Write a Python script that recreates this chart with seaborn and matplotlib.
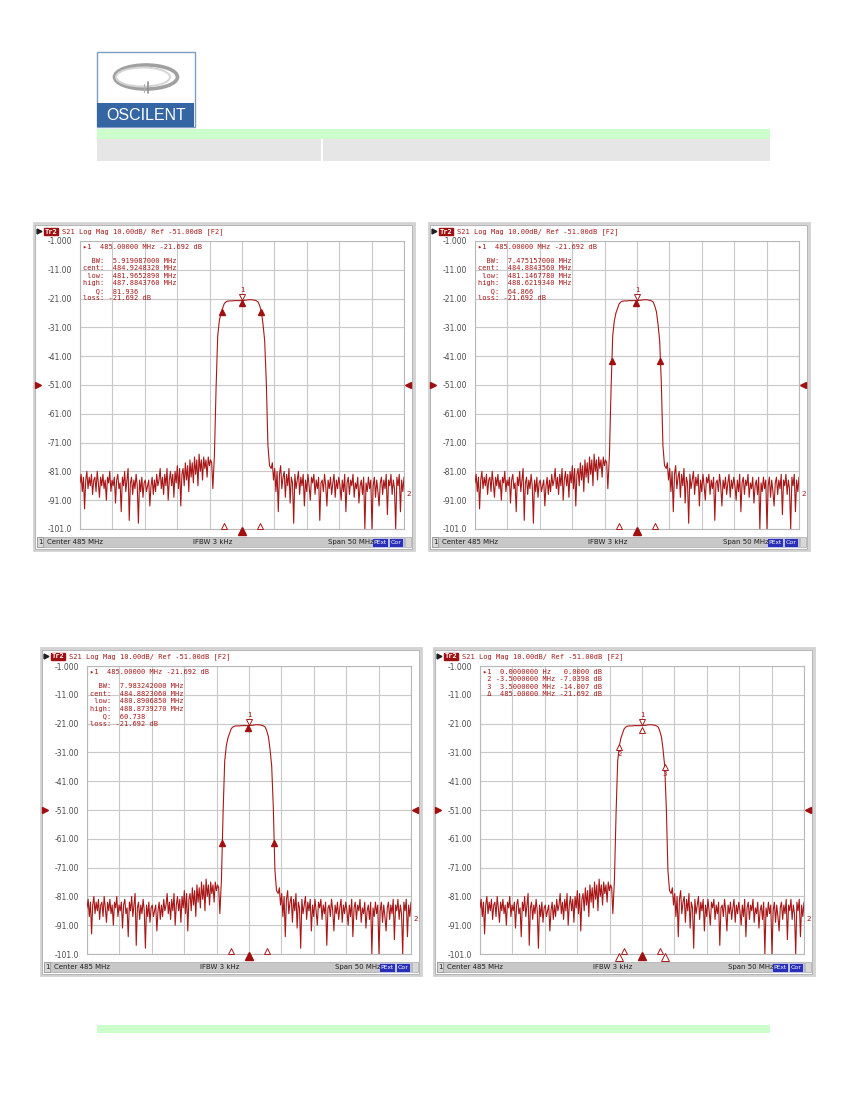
import numpy as np
import matplotlib
matplotlib.use("Agg")
import matplotlib.pyplot as plt
import seaborn as sns
from matplotlib.patches import Rectangle, Ellipse
from matplotlib.transforms import ScaledTranslation

sns.set_theme(style="white")
plt.rcParams['font.family'] = ['DejaVu Sans']

# ---------------- data ----------------
CENTER_MHZ = 485.0
SPAN_MHZ = 50.0
Y_TICKS = [-1, -11, -21, -31, -41, -51, -61, -71, -81, -91, -101]
Y_TICK_LABELS = ["-1.000", "-11.00", "-21.00", "-31.00", "-41.00", "-51.00",
                 "-61.00", "-71.00", "-81.00", "-91.00", "-101.0"]
REF_LEVEL = -51.0
TRACE_LABEL_LEVEL = -89.0

# S21 trace (dB), left stop-band: offsets -25 .. -4.5 MHz
left_noise_db = [-85, -82, -88, -83, -94, -84, -81, -87, -83, -86,
                 -82, -89, -84, -83, -88, -81, -85, -90, -83, -86,
                 -82, -87, -84, -91, -83, -85, -81, -88, -84, -86,
                 -83, -92, -84, -82, -87, -85, -95, -83, -86, -81,
                 -88, -84, -80, -98, -85, -83, -89, -84, -87, -82,
                 -86, -99, -84, -88, -83, -90, -85, -84, -88, -86,
                 -84, -93, -86, -83, -89, -84, -88, -82, -86, -84,
                 -80, -87, -83, -89, -82, -86, -80, -91, -84, -81,
                 -86, -82, -90, -81, -85, -79, -87, -80, -93, -82,
                 -80, -86, -78, -84, -79, -88, -77, -83, -78, -85,
                 -76, -82, -77, -86, -75, -81, -77, -84, -76, -80,
                 -77, -83, -76, -79, -77, -78, -87]
# pass-band: offsets -4.25 .. +4.25 MHz
passband_db = [-75, -52, -34, -28.7, -26.0, -24.4, -22.8, -22.2, -21.9, -21.8, -21.8,
               -21.8, -21.7, -21.7, -21.7, -21.7, -21.7, -21.7, -21.6, -21.6, -21.5,
               -21.4, -21.4, -21.4, -21.5, -21.6, -21.8, -22.2, -23.6, -25.6, -30.0,
               -35.7, -50, -72, -79]
# right stop-band: offsets +4.5 .. +25 MHz
right_noise_db = [-80, -78, -84, -80, -88, -81, -95, -82, -79, -87,
                  -83, -81, -90, -82, -86, -80, -92, -83, -85, -99,
                  -82, -87, -84, -81, -89, -83, -86, -82, -93, -84,
                  -88, -82, -86, -91, -83, -85, -82, -89, -84, -87,
                  -83, -98, -85, -84, -88, -82, -86, -93, -84, -87,
                  -83, -89, -85, -82, -90, -84, -87, -83, -86, -91,
                  -84, -88, -82, -95, -85, -83, -89, -84, -86, -82,
                  -90, -85, -87, -83, -92, -86, -84, -89, -83, -101,
                  -85, -88, -83, -87, -84, -101, -86, -83, -90, -84,
                  -88, -93, -85, -83, -89, -84, -87, -82, -96, -84,
                  -86, -82, -89, -84, -87, -101, -83, -86, -82, -95,
                  -84, -88, -83]

LOSS_DB = -21.692
BW_LEVELS = [-24.692, -41.692, -61.692]
BW_MHZ = ["5.919087000", "7.475157000", "7.983242000"]
CENT_MHZ = ["484.9248320", "484.8843560", "484.8823060"]
LOW_MHZ = ["481.9652890", "481.1467780", "480.8906850"]
HIGH_MHZ = ["487.8843760", "488.6219340", "488.8739270"]
Q_VALUES = ["81.936", "64.866", "60.738"]

# panel 4 marker table
M4_LABELS = ["1", "2", "3"]
M4_OFFSET_MHZ = [0.0, -3.5, 3.5]
M4_REL_DB = [0.0, -7.0398, -14.007]
M4_LINES = ["\u25b81  0.0000000 Hz   0.0000 dB",
            " 2 -3.5000000 MHz -7.0398 dB",
            " 3  3.5000000 MHz -14.007 dB",
            " \u0394  485.00000 MHz -21.692 dB"]
BOTTOM_OPEN_OFFSETS = [-2.75, 2.75]

TITLE = "S21 Log Mag 10.00dB/ Ref -51.00dB [F2]"
STATUS_CENTER = "Center 485 MHz"
STATUS_IFBW = "IFBW 3 kHz"
STATUS_SPAN = "Span 50 MHz"

# ---------------- build trace ----------------
f_left = np.linspace(-25, -4.5, len(left_noise_db))
f_pass = np.linspace(-4.25, 4.25, len(passband_db))
f_right = np.linspace(4.5, 25, len(right_noise_db))
trace_freq = CENTER_MHZ + np.concatenate([f_left, f_pass, f_right])
trace_db = np.array(left_noise_db + passband_db + right_noise_db, dtype=float)
trace_df = {"freq": trace_freq, "db": trace_db}

RED = '#a81818'
MONO = ['DejaVu Sans Mono', 'DejaVu Sans']

W, H = 850, 1100
fig = plt.figure(figsize=(8.5, 11), dpi=100)
fig.patch.set_facecolor('white')
bg = fig.add_axes([0, 0, 1, 1])
bg.set_xlim(0, W)
bg.set_ylim(H, 0)
bg.axis('off')

# ---------------- page header ----------------
bg.add_patch(Rectangle((97, 52), 98, 75, facecolor='white', edgecolor='#7f9cc4', lw=1))
bg.add_patch(Rectangle((97.5, 103), 97, 23.5, facecolor='#3466a4', edgecolor='none'))
bg.text(146.5, 115.5, 'OSCILENT', color='white', fontsize=11.5, family='Liberation Sans',
        ha='center', va='center')
bg.add_patch(Ellipse((146, 77), 63, 24, fill=False, edgecolor='#a0a0a0', lw=2.6))
bg.add_patch(Ellipse((143, 77), 54, 19, fill=False, edgecolor='#d4d4d4', lw=1.4))
bg.plot([148, 148], [82, 93], color='#909090', lw=1.2)
bg.plot([144, 144], [84, 92], color='#b0b0b0', lw=0.8)
bg.add_patch(Rectangle((97, 129), 673, 10, facecolor='#ccffcc', edgecolor='none'))
bg.add_patch(Rectangle((97, 139), 673, 22, facecolor='#e6e6e6', edgecolor='none'))
bg.plot([322, 322], [139, 161], color='white', lw=1.5)
bg.add_patch(Rectangle((97, 1025), 673, 8, facecolor='#ccffcc', edgecolor='none'))

# ---------------- panels ----------------
PANELS = [(34, 223), (429, 223), (41, 648), (434, 648)]
FW, FH = 380, 327
PDX, PDY, PW, PH = 46, 18, 324, 288


def off(ax, dx, dy):
    return ax.transData + ScaledTranslation(dx / 100, dy / 100, fig.dpi_scale_trans)


for k, (fl, ft) in enumerate(PANELS):
    # frame
    bg.add_patch(Rectangle((fl, ft), FW, FH, facecolor='white', edgecolor='#d2d2d2', lw=2))
    bg.add_patch(Rectangle((fl + 1.5, ft + 1.5), FW - 3, FH - 3, facecolor='none',
                           edgecolor='#b4b4b4', lw=0.7))
    # title bar
    bg.plot([fl + 5], [ft + 8], marker='>', ms=3.5, color='#202020')
    bg.text(fl + 17, ft + 8.5, 'Tr2', fontsize=5.0, family=MONO, color='white',
            ha='center', va='center', fontweight='bold',
            bbox=dict(boxstyle='square,pad=0.12', fc='#a01010', ec='#a01010'))
    bg.text(fl + 28, ft + 8.5, TITLE, fontsize=5.0, family=MONO, color=RED,
            ha='left', va='center')
    # status bar
    sy = ft + 314
    bg.add_patch(Rectangle((fl + 3, sy), FW - 13, 10, facecolor='#c8c8c8',
                           edgecolor='#a8a8a8', lw=0.5))
    bg.add_patch(Rectangle((fl + FW - 9, sy), 6, 10, facecolor='#d8d8d8',
                           edgecolor='#a8a8a8', lw=0.5))
    bg.add_patch(Rectangle((fl + 3, sy), 6, 10, facecolor='#d8d8d8',
                           edgecolor='#909090', lw=0.5))
    bg.text(fl + 6, sy + 5.3, '1', fontsize=5, color='#202020', ha='center', va='center')
    bg.text(fl + 13, sy + 5.3, STATUS_CENTER, fontsize=5, color='#202020', va='center')
    bg.text(fl + 159, sy + 5.3, STATUS_IFBW, fontsize=5, color='#202020', va='center')
    bg.text(fl + 294, sy + 5.3, STATUS_SPAN, fontsize=5, color='#202020', va='center')
    bg.add_patch(Rectangle((fl + 338, sy + 0.5), 16, 9, facecolor='#2830b8', edgecolor='#e0e0ff', lw=0.5))
    bg.add_patch(Rectangle((fl + 355, sy + 0.5), 14, 9, facecolor='#2830b8', edgecolor='#e0e0ff', lw=0.5))
    bg.text(fl + 346, sy + 5.3, 'PExt', fontsize=4.3, color='white', ha='center', va='center')
    bg.text(fl + 362, sy + 5.3, 'Cor', fontsize=4.5, color='white', ha='center', va='center')

    # data axes
    pl, pt = fl + PDX, ft + PDY
    ax = fig.add_axes([pl / W, 1 - (pt + PH) / H, PW / W, PH / H])
    ax.set_facecolor('white')
    ax.set_xlim(CENTER_MHZ - SPAN_MHZ / 2, CENTER_MHZ + SPAN_MHZ / 2)
    ax.set_ylim(Y_TICKS[-1], Y_TICKS[0])
    ax.set_xticks(np.linspace(CENTER_MHZ - SPAN_MHZ / 2, CENTER_MHZ + SPAN_MHZ / 2, 11))
    ax.set_xticklabels([])
    ax.set_yticks(Y_TICKS)
    ax.set_yticklabels(Y_TICK_LABELS, fontsize=5.5, color='#4a4a4a')
    ax.tick_params(axis='both', length=0, pad=5.5)
    ax.grid(True, color='#c8c8c8', lw=0.8)
    for s in ax.spines.values():
        s.set_color('#b8b8b8')
        s.set_linewidth(0.8)

    sns.lineplot(x=trace_df["freq"], y=trace_df["db"], ax=ax, color=RED, lw=0.8,
                 sort=False, estimator=None, zorder=3)

    # reference level arrows and trace number
    ax.plot([0], [REF_LEVEL], marker='>', ms=4, color='#a01010', clip_on=False,
            transform=ax.get_yaxis_transform() + ScaledTranslation(-42 / 100, 0, fig.dpi_scale_trans))
    ax.plot([1], [REF_LEVEL], marker='<', ms=4, color='#a01010', clip_on=False,
            transform=ax.get_yaxis_transform() + ScaledTranslation(4 / 100, 0, fig.dpi_scale_trans))
    ax.text(1, TRACE_LABEL_LEVEL, '2', fontsize=5.2, color=RED, va='center',
            transform=ax.get_yaxis_transform() + ScaledTranslation(2 / 100, 0, fig.dpi_scale_trans))

    # marker 1 symbol
    ax.plot([CENTER_MHZ], [LOSS_DB], marker='v', ms=4, mfc='white', mec=RED, mew=0.7,
            transform=off(ax, 0, 4), zorder=5)
    ax.text(CENTER_MHZ, LOSS_DB, '1', fontsize=5, color=RED, ha='center', va='center',
            transform=off(ax, 0, 11), zorder=5)

    # bottom position indicators
    ax.plot(CENTER_MHZ + np.array(BOTTOM_OPEN_OFFSETS), [Y_TICKS[-1]] * 2, ls='none', marker='^',
            ms=4, mfc='white', mec=RED, mew=0.7, clip_on=False, transform=off(ax, 0, 3), zorder=5)
    ax.plot([CENTER_MHZ], [Y_TICKS[-1]], marker='^', ms=5.5, color='#a01010',
            clip_on=False, transform=off(ax, 0, -2), zorder=5)

    if k < 3:
        lvl = BW_LEVELS[k]
        ax.plot([float(LOW_MHZ[k]), float(HIGH_MHZ[k])], [lvl, lvl], ls='none', marker='^',
                ms=4.5, color='#a01010', transform=off(ax, 0, -2.5), zorder=5)
        ax.plot([float(CENT_MHZ[k])], [LOSS_DB], marker='^', ms=4.5, color='#a01010',
                transform=off(ax, 0, -2.5), zorder=5)
        lines = ["\u25b81  485.00000 MHz -21.692 dB",
                 f"{'BW:':>5}  {BW_MHZ[k]} MHz",
                 f"{'cent:':>5}  {CENT_MHZ[k]} MHz",
                 f"{'low:':>5}  {LOW_MHZ[k]} MHz",
                 f"{'high:':>5}  {HIGH_MHZ[k]} MHz",
                 f"{'Q:':>5}  {Q_VALUES[k]}",
                 f"{'loss:':>5} {LOSS_DB:.3f} dB"]
        ys = [6, 20, 27.5, 35, 42.5, 50, 57.5]
        for s, yy in zip(lines, ys):
            ax.text(3 / PW, 1 - yy / PH, s, transform=ax.transAxes, fontsize=5.0,
                    family=MONO, color=RED, va='center', ha='left', zorder=6)
    else:
        ax.plot([CENTER_MHZ], [LOSS_DB], marker='^', ms=4, mfc='white', mec=RED, mew=0.7,
                transform=off(ax, 0, -4), zorder=5)
        for lab, o, rel in zip(M4_LABELS[1:], M4_OFFSET_MHZ[1:], M4_REL_DB[1:]):
            ax.plot([CENTER_MHZ + o], [LOSS_DB + rel], marker='^', ms=4.5, mfc='white',
                    mec=RED, mew=0.7, transform=off(ax, 0, -1), zorder=5)
            ax.text(CENTER_MHZ + o, LOSS_DB + rel, lab, fontsize=5, color=RED, ha='center',
                    va='center', transform=off(ax, 0, -8), zorder=5)
            ax.plot([CENTER_MHZ + o], [Y_TICKS[-1]], marker='^', ms=5.5, mfc='white',
                    mec=RED, mew=0.7, clip_on=False, transform=off(ax, 0, -3), zorder=5)
        for i, s in enumerate(M4_LINES):
            ax.text(3 / PW, 1 - (6 + 7.4 * i) / PH, s, transform=ax.transAxes, fontsize=5.0,
                    family=MONO, color=RED, va='center', ha='left', zorder=6)

fig.savefig('out.png', dpi=100, facecolor='white')
